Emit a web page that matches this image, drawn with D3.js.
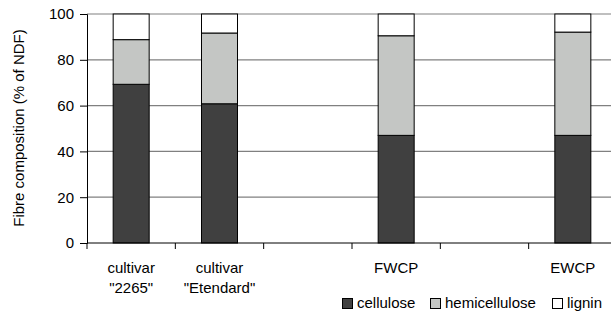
<!DOCTYPE html>
<html><head><meta charset="utf-8">
<script src="https://cdn.jsdelivr.net/npm/d3@7"></script>
<style>body{margin:0;background:#fff}svg{display:block;font-family:"Liberation Sans",Arial,sans-serif}</style>
</head><body><svg id="c" width="611" height="312"></svg>
<script>
const categories = [["cultivar","\"2265\""],["cultivar","\"Etendard\""],["",""],["FWCP",""],["",""],["EWCP",""]];
const cellulose = [69.3, 60.8, null, 47.0, null, 47.0];
const hemicellulose = [19.5, 30.9, null, 43.5, null, 45.1];
const lignin = [11.2, 8.3, null, 9.5, null, 7.9];
const seriesNames = ["cellulose","hemicellulose","lignin"];
const seriesColors = ["#404040","#c4c6c4","#ffffff"];
const yTicks = [0,20,40,60,80,100];

const FS = 15;
const svg = d3.select("#c");
const x0 = 87, x1 = 617, yTop = 14, yBot = 243;
const x = d3.scaleBand().domain(d3.range(categories.length)).range([x0,x1]).paddingInner(0).paddingOuter(0);
const y = d3.scaleLinear().domain([0,100]).range([yBot,yTop]);

// gridlines
svg.append("g").selectAll("line").data(yTicks.filter(d=>d>0)).join("line")
  .attr("x1",x0).attr("x2",x1).attr("y1",d=>y(d)).attr("y2",d=>y(d))
  .attr("stroke","#808080").attr("stroke-width",1.2);

// bars
const data = categories.map((c,i)=>({i, vals:[cellulose[i],hemicellulose[i],lignin[i]]})).filter(d=>d.vals[0]!=null);
const bw = 36;
const g = svg.append("g");
data.forEach(d=>{
  let acc = 0;
  d.vals.forEach((v,k)=>{
    const cx = x(d.i)+x.bandwidth()/2;
    g.append("rect").attr("x",cx-bw/2).attr("width",bw)
      .attr("y",y(acc+v)).attr("height",y(acc)-y(acc+v))
      .attr("fill",seriesColors[k]).attr("stroke","#000").attr("stroke-width",1);
    acc += v;
  });
});

// y axis
const ya = svg.append("g").attr("transform",`translate(${x0},0)`)
  .call(d3.axisLeft(y).tickValues(yTicks).tickSize(7).tickPadding(6));
ya.select(".domain").attr("stroke","#000");
ya.selectAll(".tick line").attr("stroke","#000");
ya.selectAll("text").attr("font-size",FS).attr("fill","#000").attr("font-family","Liberation Sans, Arial, sans-serif");

// x axis
const xa = svg.append("g").attr("transform",`translate(0,${yBot})`);
xa.append("line").attr("x1",x0).attr("x2",x1).attr("stroke","#000");
xa.selectAll(".t").data(d3.range(categories.length+1)).join("line")
  .attr("x1",d=>x0+d*x.bandwidth()).attr("x2",d=>x0+d*x.bandwidth())
  .attr("y1",0).attr("y2",6).attr("stroke","#000");
categories.forEach((c,i)=>{
  const cx = x(i)+x.bandwidth()/2;
  c.forEach((t,k)=>{
    if(!t) return;
    xa.append("text").attr("x",cx).attr("y",30+k*20).attr("text-anchor","middle")
      .attr("font-size",FS).attr("fill","#000").text(t);
  });
});

// y label
svg.append("text").attr("transform","translate(24,128) rotate(-90)")
  .attr("text-anchor","middle").attr("font-size",FS).attr("fill","#000")
  .text("Fibre composition (% of NDF)");

// legend
const legX = [342, 430, 552];
seriesNames.forEach((n,k)=>{
  svg.append("rect").attr("x",legX[k]+0.5).attr("y",298.5).attr("width",10).attr("height",10)
    .attr("fill",seriesColors[k]).attr("stroke","#000").attr("stroke-width",1);
  svg.append("text").attr("x",legX[k]+15).attr("y",308).attr("font-size",FS).attr("fill","#000").text(n);
});
</script></body></html>
